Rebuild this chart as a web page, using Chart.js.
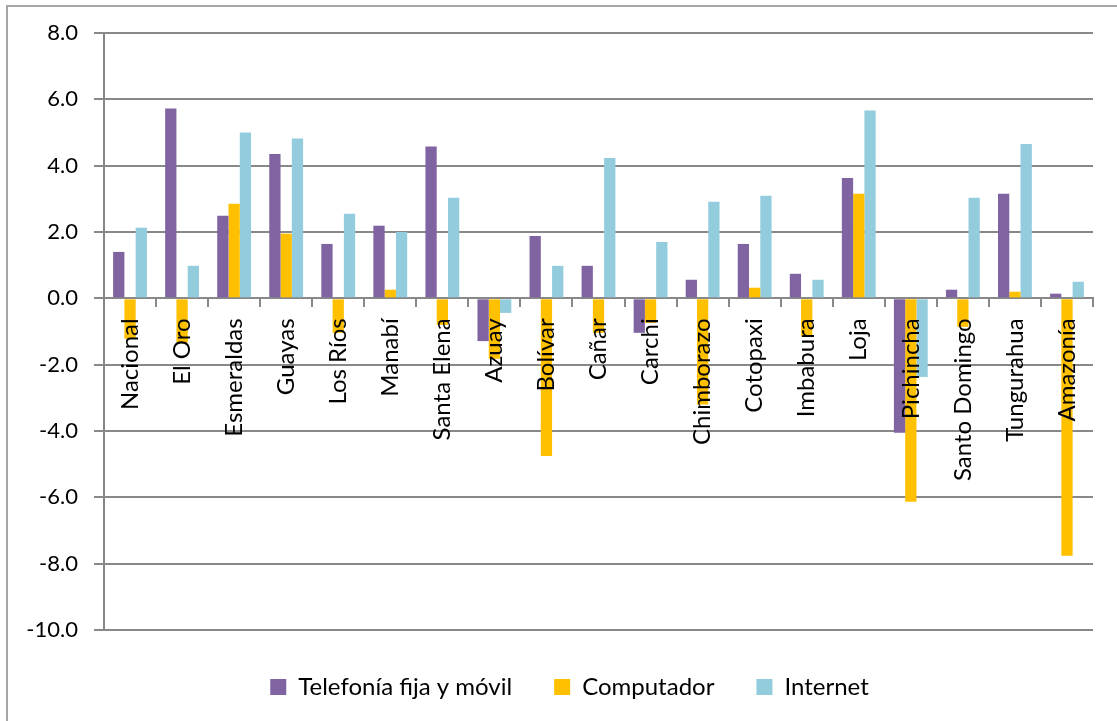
<!DOCTYPE html>
<html lang="es">
<head>
<meta charset="utf-8">
<title>Variación por provincia</title>
<script src="https://cdn.jsdelivr.net/npm/chart.js@4.4.1/dist/chart.umd.min.js"></script>
<style>
    body { margin: 0; overflow: hidden; background: #fff; }
    #marco {
        position: absolute; left: 6px; top: 5px; width: 1200px; height: 800px;
        border-left: 2px solid #a6a6a6; border-top: 2px solid #a6a6a6;
    }
    #grafica { position: absolute; left: 0; top: 0; }
</style>
</head>
<body>
<div id="marco"></div>
<canvas id="grafica" width="1117" height="721"></canvas>
<script>
// Datos
const categorias = ['Nacional', 'El Oro', 'Esmeraldas', 'Guayas', 'Los Ríos', 'Manabí', 'Santa Elena', 'Azuay',
    'Bolívar', 'Cañar', 'Carchi', 'Chimborazo', 'Cotopaxi', 'Imbabura', 'Loja', 'Pichincha',
    'Santo Domingo', 'Tungurahua', 'Amazonía'];
const telefonia = [1.40, 5.72, 2.49, 4.35, 1.64, 2.19, 4.58, -1.29, 1.88, 0.98, -1.04, 0.56, 1.64, 0.74, 3.63, -4.05, 0.26, 3.15, 0.14];
const computador = [-1.22, -1.34, 2.85, 1.95, -1.04, 0.26, -0.80, -1.82, -4.75, -1.04, -0.74, -3.20, 0.32, -1.16, 3.15, -6.13, -0.86, 0.20, -7.76];
const internet = [2.13, 0.98, 5.00, 4.82, 2.55, 2.00, 3.03, -0.44, 0.98, 4.23, 1.70, 2.91, 3.09, 0.56, 5.66, -2.37, 3.03, 4.65, 0.50];
const series = ['Telefonía fija y móvil', 'Computador', 'Internet'];

const fuente = "Lato, 'Liberation Sans', sans-serif";
const gris = '#888888';

// Etiquetas de categoría verticales, dibujadas bajo la línea del cero y encima de las barras
const etiquetasCategoria = {
    id: 'etiquetasCategoria',
    afterDatasetsDraw(chart) {
        let ctx = chart.ctx;
        let x = chart.scales.x;
        let y = chart.scales.y;
        let y0 = y.getPixelForValue(0) + 20;
        ctx.save();
        ctx.font = '24px ' + fuente;
        ctx.fillStyle = '#000';
        ctx.textAlign = 'right';
        ctx.textBaseline = 'middle';
        categorias.forEach((nombre, i) => {
            ctx.save();
            ctx.translate(x.getPixelForValue(i), y0);
            ctx.rotate(-Math.PI / 2);
            ctx.fillText(nombre, 0, 0);
            ctx.restore();
        });
        ctx.restore();
    }
};

// Mover la leyenda un poco a la derecha y abajo, como en el original
const moverLeyenda = {
    id: 'moverLeyenda',
    afterLayout(chart) {
        let ley = chart.legend;
        ley.left += 23;
        ley.right += 23;
        ley.top += 3;
        ley.bottom += 3;
    }
};

let ctx = document.getElementById('grafica').getContext('2d');

window.myChart = new Chart(ctx, {
    type: 'bar',
    data: {
        labels: categorias,
        datasets: [
            { label: series[0], data: telefonia, backgroundColor: '#8064A2' },
            { label: series[1], data: computador, backgroundColor: '#FFC000' },
            { label: series[2], data: internet, backgroundColor: '#93CDDD' }
        ]
    },
    options: {
        responsive: false,
        animation: false,
        datasets: {
            bar: { categoryPercentage: 0.65, barPercentage: 1 }
        },
        layout: {
            padding: { left: 0, top: 33, right: 24, bottom: 15 }
        },
        plugins: {
            tooltip: { enabled: false },
            legend: {
                position: 'bottom',
                labels: {
                    boxWidth: 16,
                    boxHeight: 16,
                    padding: 42,
                    color: '#000',
                    font: { family: fuente, size: 24 }
                }
            }
        },
        scales: {
            x: {
                position: { y: 0 },
                afterFit: s => { s.height = 0; },
                grid: {
                    drawOnChartArea: false,
                    drawTicks: true,
                    tickLength: 8,
                    color: gris,
                    lineWidth: 2,
                    offset: true
                },
                border: { display: true, color: gris, width: 2 },
                ticks: { display: false }
            },
            y: {
                min: -10,
                max: 8,
                afterFit: s => { s.width = 104; },
                grid: { color: gris, lineWidth: 2, tickLength: 10 },
                border: { display: true, color: gris, width: 2 },
                ticks: {
                    stepSize: 2,
                    padding: 16,
                    color: '#000',
                    font: { family: fuente, size: 22 },
                    callback: v => v.toFixed(1)
                }
            }
        }
    },
    plugins: [etiquetasCategoria, moverLeyenda]
});
</script>
</body>
</html>
